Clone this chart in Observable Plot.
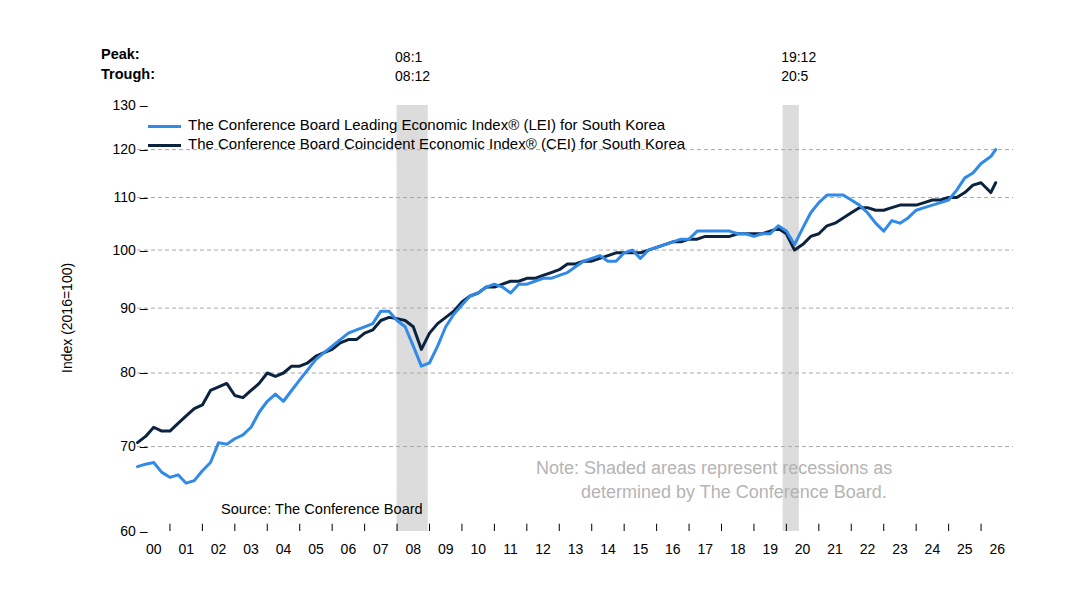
<!DOCTYPE html>
<html><head><meta charset="utf-8">
<script src="https://cdn.jsdelivr.net/npm/d3@7"></script>
<script src="https://cdn.jsdelivr.net/npm/@observablehq/plot@0.6"></script>
<style>
body{margin:0;background:#fff;font-family:"Liberation Sans",Arial,sans-serif;}
#wrap{position:relative;width:1080px;height:604px;}
.abs{position:absolute;white-space:nowrap;}
</style></head><body>
<div id="wrap"></div>
<script>
const lei = [67.5,67.8,68,66.8, 66.2,66.5,65.5,65.8, 67,68,70.5,70.3, 71,71.5,72.5,74.5,
 76,77,76,77.5, 79,80.5,82,83, 84,85,86,86.5, 87,87.5,89.5,89.5, 88,87,84,81,
 81.5,84,87,89, 90.5,92,92.5,93.5, 94,93.5,92.5,94, 94,94.5,95,95, 95.5,96,97,98,
 98.5,99,98,98, 99.5,100,98.5,100, 100.5,101,101.5,102, 102,103.5,103.5,103.5,
 103.5,103.5,103,103, 102.5,103,103,104.5, 103.5,101,104,107, 109,110.5,110.5,110.5,
 109.5,108.5,107,105, 103.5,105.5,105,106, 107.5,108,108.5,109, 109.5,111.5,114,115, 117,118.5,120];
const cei = [70.5,71.3,72.5,72, 72,73,74,75, 75.5,77.5,78,78.5, 76.8,76.5,77.5,78.5,
 80,79.5,80,81, 81,81.5,82.5,83, 83.5,84.5,85,85, 86,86.5,88,88.5, 88.3,88,87,83.5,
 86,87.5,88.5,89.5, 91,92,92.5,93.5, 93.5,94,94.5,94.5, 95,95,95.5,96, 96.5,97.5,97.5,98,
 98,98.5,99,99.5, 99.5,99.5,99.5,100, 100.5,101,101.5,101.5, 102,102,102.5,102.5,
 102.5,102.5,103,103, 103,103,103.5,104, 103,100,101,102.5, 103,104.5,105,106,
 107,108,108,107.5, 107.5,108,108.5,108.5, 108.5,109,109.5,109.5, 110,110,111,112.5, 113,111,113];
const dates = lei.map((_, i) => i < lei.length - 2 ? 2000 + i * 0.25 : (i === lei.length - 2 ? 2026.3 : 2026.45));
const recessions = [{peak: 2008.0, trough: 2008.96, peakLabel: "08:1", troughLabel: "08:12"},
                    {peak: 2019.9, trough: 2020.4, peakLabel: "19:12", troughLabel: "20:5"}];
const yearLabels = d3.range(2000, 2027);
const yTicks = [60, 70, 80, 90, 100, 110, 120, 130];
const gridVals = [70, 80, 90, 100, 110, 120];

const rows = dates.map((d, i) => ({d, lei: lei[i], cei: cei[i]}));
const plot = Plot.plot({
  width: 1080, height: 604,
  marginLeft: 137, marginRight: 67, marginTop: 105, marginBottom: 73,
  style: {fontFamily: "Liberation Sans, Arial, sans-serif", fontSize: "13px", color: "#000"},
  x: {domain: [2000, 2027], axis: null},
  y: {type: "log", domain: [60, 130], axis: null},
  marks: [
    Plot.rectX(recessions, {x1: "peak", x2: "trough", y1: 60, y2: 130, fill: "#dcdcdc"}),
    Plot.ruleY(gridVals, {stroke: "#a8a8a8", strokeDasharray: "4,3", strokeWidth: 1}),
    Plot.line(rows, {x: "d", y: "cei", stroke: "#0c2340", strokeWidth: 3}),
    Plot.line(rows, {x: "d", y: "lei", stroke: "#318ae8", strokeWidth: 3}),
    Plot.text(yTicks, {x: 2000, y: d => d, text: d => d + " \u2013", textAnchor: "end", dx: 10, fontSize: 14}),
    Plot.ruleX(d3.range(2001, 2027), {x: d => d, y1: 60, y2: 60.8, stroke: "#000"}),
    Plot.text(yearLabels, {x: d => d + 0.5, y: 60, text: d => String(d % 100).padStart(2, "0"), dy: 18, fontSize: 14}),
    Plot.text(recessions, {x: "peak", y: 130, text: "peakLabel", textAnchor: "start", dx: -2, dy: -48, fontSize: 14}),
    Plot.text(recessions, {x: "peak", y: 130, text: "troughLabel", textAnchor: "start", dx: -2, dy: -29, fontSize: 14})
  ]
});
const wrap = document.getElementById("wrap");
wrap.appendChild(plot);
const add = (html, css) => { const e = document.createElement("div"); e.className = "abs"; e.innerHTML = html; Object.assign(e.style, css); wrap.appendChild(e); };
add("<b>Peak:</b>", {left: "101px", top: "46px", fontSize: "14.5px"});
add("<b>Trough:</b>", {left: "101px", top: "66px", fontSize: "14.5px"});
add('<span style="display:inline-block;width:33px;height:3px;background:#318ae8;vertical-align:middle;margin-right:7px"></span>The Conference Board Leading Economic Index® (LEI) for South Korea', {left: "148px", top: "116px", fontSize: "15px"});
add('<span style="display:inline-block;width:33px;height:3px;background:#0c2340;vertical-align:middle;margin-right:7px"></span>The Conference Board Coincident Economic Index® (CEI) for South Korea', {left: "148px", top: "135px", fontSize: "15px"});
add("Index (2016=100)", {left: "12px", top: "310px", width: "110px", textAlign: "center", fontSize: "14px", transform: "rotate(-90deg)"});
add("Note: Shaded areas represent recessions as<br><span style='padding-left:45px'>determined by The Conference Board.</span>", {left: "536px", top: "456px", fontSize: "18px", color: "#b4b4b4", lineHeight: "24px"});
add("Source: The Conference Board", {left: "221px", top: "501px", fontSize: "14.6px"});
</script></body></html>
